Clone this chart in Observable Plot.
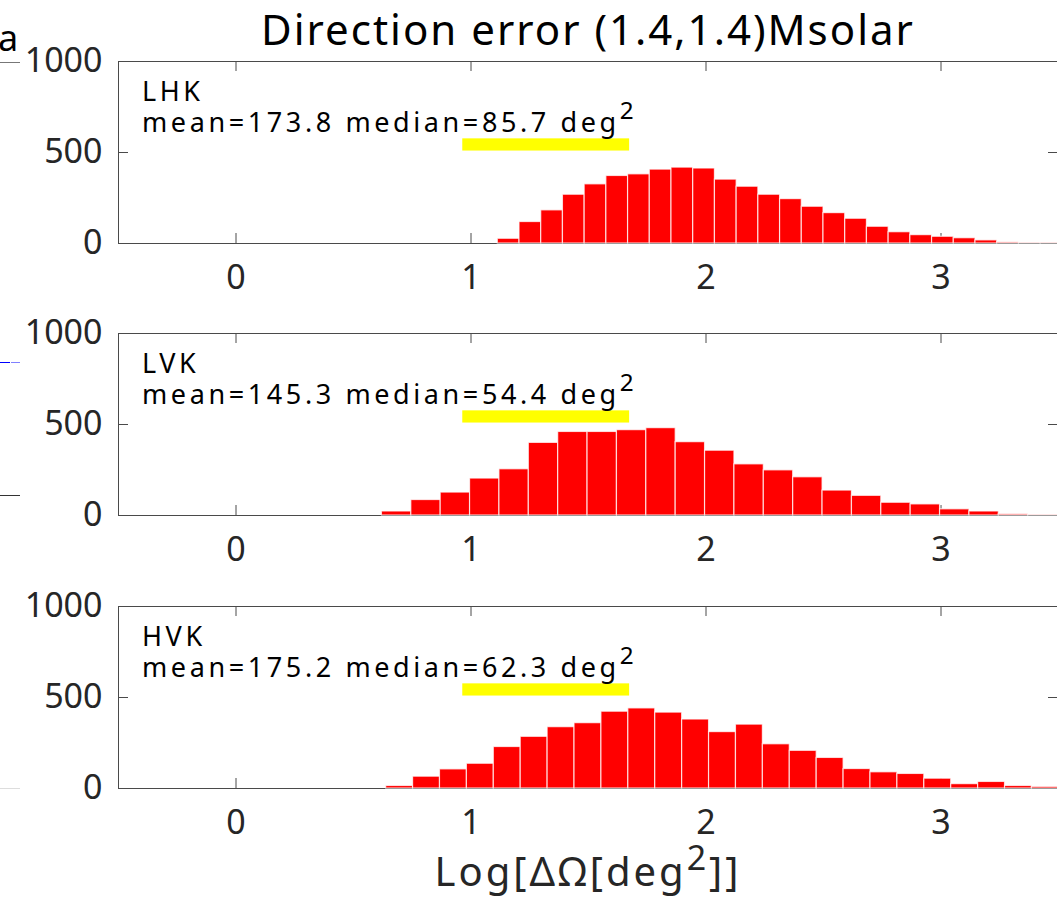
<!DOCTYPE html>
<html>
<head>
<meta charset="utf-8">
<script src="https://cdn.jsdelivr.net/npm/d3@7"></script>
<script src="https://cdn.jsdelivr.net/npm/@observablehq/plot@0.6"></script>
<style>
  html, body { margin: 0; padding: 0; background: #fff; overflow: hidden; }
  #wrap { position: relative; width: 1057px; height: 902px; overflow: hidden; background: #fff; font-family: 'Noto Sans', sans-serif; color: #000; }
  .panel { position: absolute; left: 0; }
  .panel svg { max-width: none !important; }
  #title { position: absolute; top: 0px; left: 588px; transform: translateX(-50%); white-space: nowrap; font-size: 42px; line-height: normal; letter-spacing: 2px; color: #000; }
  #xlabel { position: absolute; top: 851px; left: 588px; transform: translateX(-50%); white-space: nowrap; font-size: 40px; line-height: 1; letter-spacing: 3px; color: #262626; }
  #xlabel sup { font-size: 0.85em; position: relative; top: -0.05em; vertical-align: super; line-height: 0; }
  .deco { position: absolute; height: 1px; }
  #cut-a { position: absolute; left: -2px; top: 20px; font-size: 36px; line-height: 1; color: #000; }
</style>
</head>
<body>
<div id="wrap">
  <div id="cut-a">a</div>
  <div class="deco" style="left:0;top:62px;width:20px;background:#777"></div>
  <div class="deco" style="left:0;top:362px;width:10px;background:#0000ff"></div>
  <div class="deco" style="left:11px;top:362px;width:9px;background:#8080ff"></div>
  <div class="deco" style="left:0;top:495px;width:20px;background:#333"></div>
  <div class="deco" style="left:0;top:788px;width:20px;background:#ddd"></div>
  <div id="title">Direction error (1.4,1.4)Msolar</div>
  <div id="xlabel">Log[ΔΩ[deg<sup>2</sup>]]</div>
</div>
<script>
// ---- data ----
const xTicks = [0, 1, 2, 3];
const yTicks = [0, 500, 1000];
const xDomain = [-0.5, 3.5];
const yDomain = [0, 1000];

const panelNames = ["LHK", "LVK", "HVK"];
const meanValues = ["173.8", "145.3", "175.2"];
const medianValues = ["85.7", "54.4", "62.3"];

// histogram bin layout (first edge, bin width) per panel
const binStart = [1.114, 0.621, 0.639];
const binWidth = [0.0924, 0.125, 0.1145];

const countsLHK = [26, 118, 182, 268, 325, 371, 380, 406, 417, 412, 351, 312, 268, 244, 202, 167, 136, 92, 62, 46, 37, 29, 17, 6, 2, 2];
const countsLVK = [22, 85, 126, 203, 254, 399, 459, 459, 469, 480, 403, 356, 281, 248, 210, 137, 108, 70, 61, 34, 22, 7, 2];
const countsHVK = [14, 65, 105, 136, 228, 284, 337, 359, 422, 440, 417, 379, 310, 351, 243, 207, 168, 107, 89, 80, 54, 24, 36, 14, 9];
const panelCounts = [countsLHK, countsLVK, countsHVK];

// yellow band (x range, y range) seen in every panel
const bandX = [0.965, 1.675];
const bandY = [508, 575];

// annotation anchor (data units)
const noteX = -0.4;
const noteY = 615;

// ---- layout ----
const panelTops = [41, 313, 586];
const plotH = 182;
const mTop = 20, mBottom = 60, mLeft = 118, mRight = 42, W = 1100;
const plotW = W - mLeft - mRight;
const tickLen = 10;
const axisColor = "#4a4a4a";

function makePanel(k) {
  const counts = panelCounts[k];
  const bins = counts.map((c, i) => ({
    x1: binStart[k] + i * binWidth[k],
    x2: binStart[k] + (i + 1) * binWidth[k],
    y1: 0,
    y2: c
  }));
  const band = [{x1: bandX[0], x2: bandX[1], y1: bandY[0], y2: bandY[1]}];
  const note = [{name: panelNames[k], mean: meanValues[k], median: medianValues[k]}];

  const svg = Plot.plot({
    width: W,
    height: mTop + plotH + mBottom,
    marginTop: mTop, marginBottom: mBottom, marginLeft: mLeft, marginRight: mRight,
    x: {domain: xDomain},
    y: {domain: yDomain},
    style: {fontFamily: "'Noto Sans', sans-serif", fontSize: "34px", color: "#262626", background: "transparent", overflow: "visible", maxWidth: "none"},
    marks: [
      Plot.frame({stroke: axisColor, strokeWidth: 1}),
      Plot.tickX(xTicks, {x: d => d, stroke: axisColor, insetTop: plotH - tickLen}),
      Plot.tickX(xTicks, {x: d => d, stroke: axisColor, insetBottom: plotH - tickLen}),
      Plot.tickY(yTicks, {y: d => d, stroke: axisColor, insetRight: plotW - tickLen}),
      Plot.tickY(yTicks, {y: d => d, stroke: axisColor, insetLeft: plotW - tickLen}),
      Plot.axisX(xTicks, {tickSize: 0, tickPadding: 21, label: null, fontSize: 34, fill: "#262626", tickFormat: d => String(d)}),
      Plot.axisY(yTicks, {tickSize: 0, tickPadding: 16, label: null, fontSize: 34, fill: "#262626", tickFormat: d => String(d)}),
      Plot.rect(bins, {x1: "x1", x2: "x2", y1: "y1", y2: "y2", fill: "#ff0000", stroke: "#ffffff", strokeOpacity: 0.75, strokeWidth: 1.2}),
      Plot.rect(band, {x1: "x1", x2: "x2", y1: "y1", y2: "y2", fill: "#ffff00"}),
      Plot.text(note, {
        x: () => noteX, y: () => noteY,
        text: d => `${d.name}\nmean=${d.mean} median=${d.median} deg²`,
        textAnchor: "start", lineAnchor: "bottom", lineHeight: 1.15,
        fontSize: 27, fill: "#000"
      })
    ]
  });

  // letter spacing + superscript for the annotation
  svg.querySelectorAll('g[aria-label="text"] text').forEach(t => {
    t.style.letterSpacing = "3.6px";
    const nodes = t.querySelectorAll("tspan");
    const targets = nodes.length ? Array.from(nodes) : [t];
    targets.forEach(n => {
      const s = n.textContent;
      if (s.endsWith("²")) {
        n.textContent = s.slice(0, -1);
        const sup = document.createElementNS("http://www.w3.org/2000/svg", "tspan");
        sup.setAttribute("dy", "-0.5em");
        sup.setAttribute("font-size", "0.9em");
        sup.textContent = "2";
        n.appendChild(sup);
      }
    });
  });

  const div = document.createElement("div");
  div.className = "panel";
  div.style.top = panelTops[k] + "px";
  div.appendChild(svg);
  return div;
}

const wrap = document.getElementById("wrap");
[0, 1, 2].forEach(k => wrap.appendChild(makePanel(k)));
</script>
</body>
</html>
